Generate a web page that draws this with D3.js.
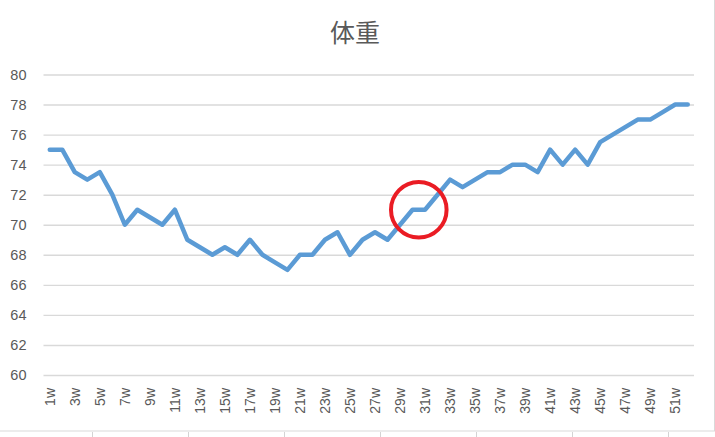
<!DOCTYPE html>
<html>
<head>
<meta charset="utf-8">
<script src="https://cdn.jsdelivr.net/npm/d3@7"></script>
<style>
  html, body { margin: 0; padding: 0; background: #fff; }
  svg { display: block; }
</style>
</head>
<body>
<script>
// weekly body weight (kg)
var weeks = d3.range(1, 53).map(function (i) { return i + "w"; });
var weights = [75, 75, 73.5, 73, 73.5, 72, 70, 71, 70.5, 70,
               71, 69, 68.5, 68, 68.5, 68, 69, 68, 67.5, 67,
               68, 68, 69, 69.5, 68, 69, 69.5, 69, 70, 71,
               71, 72, 73, 72.5, 73, 73.5, 73.5, 74, 74, 73.5,
               75, 74, 75, 74, 75.5, 76, 76.5, 77, 77, 77.5,
               78, 78];
var yTicks = [60, 62, 64, 66, 68, 70, 72, 74, 76, 78, 80];
var title = "体重";
// red circle drawn over the chart, between 30w and 31w
var mark = { from: "30w", to: "31w", value: 71, radius: 1.85 };

var W = 715, H = 437;
var margin = { top: 74.5, right: 21, bottom: 62, left: 43.5 };

var svg = d3.select("body").append("svg")
    .attr("width", W)
    .attr("height", H);

// chart frame (left/top edges are outside the photo)
svg.append("rect")
    .attr("x", -2).attr("y", -2)
    .attr("width", W + 1.5).attr("height", 433)
    .attr("fill", "#fff")
    .attr("stroke", "#d9d9d9")
    .attr("stroke-width", 1);

// sheet cells peeking out below the chart
var sheet = svg.append("g").attr("stroke", "#d4d4d4").attr("stroke-width", 1);
for (var cx = 92.5; cx < W; cx += 96) {
    sheet.append("line").attr("x1", cx).attr("x2", cx).attr("y1", 432).attr("y2", H);
}

var x = d3.scaleBand()
    .domain(weeks)
    .range([margin.left, W - margin.right]);

var y = d3.scaleLinear()
    .domain([60, 80])
    .range([H - margin.bottom, margin.top]);

var px = function (w) { return x(w) + x.bandwidth() / 2; };

svg.append("text")
    .attr("x", 355)
    .attr("y", 42)
    .attr("text-anchor", "middle")
    .attr("font-family", "'Noto Sans CJK JP', sans-serif")
    .attr("font-size", 25)
    .attr("fill", "#595959")
    .text(title);

// y axis: gridlines + labels
var yAxis = svg.append("g")
    .attr("transform", "translate(" + margin.left + ",0)")
    .call(d3.axisLeft(y)
        .tickValues(yTicks)
        .tickSize(-(W - margin.left - margin.right))
        .tickPadding(17));
yAxis.select(".domain").remove();
yAxis.selectAll(".tick line").attr("stroke", "#d9d9d9").attr("stroke-width", 1.4);
yAxis.selectAll(".tick text")
    .attr("fill", "#595959")
    .attr("font-family", "'Liberation Sans', Arial, sans-serif")
    .attr("font-size", 14.5);

// x axis: every other week, rotated
var xAxis = svg.append("g")
    .attr("transform", "translate(0," + (H - margin.bottom) + ")")
    .call(d3.axisBottom(x)
        .tickValues(weeks.filter(function (d, i) { return i % 2 === 0; }))
        .tickSize(0));
xAxis.select(".domain").remove();
xAxis.selectAll(".tick text")
    .attr("fill", "#595959")
    .attr("font-family", "'Liberation Sans', Arial, sans-serif")
    .attr("font-size", 14)
    .attr("text-anchor", "end")
    .attr("dy", "0.35em")
    .attr("transform", "translate(0,13) rotate(-90)")
    .attr("x", 0).attr("y", 0);

var line = d3.line()
    .x(function (d, i) { return px(weeks[i]); })
    .y(function (d) { return y(d); });

svg.append("path")
    .datum(weights)
    .attr("fill", "none")
    .attr("stroke", "#5b9bd5")
    .attr("stroke-width", 4.5)
    .attr("stroke-linejoin", "round")
    .attr("stroke-linecap", "round")
    .attr("d", line);

svg.append("circle")
    .attr("cx", (px(mark.from) + px(mark.to)) / 2)
    .attr("cy", y(mark.value))
    .attr("r", y(mark.value) - y(mark.value + mark.radius))
    .attr("fill", "none")
    .attr("stroke", "#ea1c24")
    .attr("stroke-width", 4);
</script>
</body>
</html>
